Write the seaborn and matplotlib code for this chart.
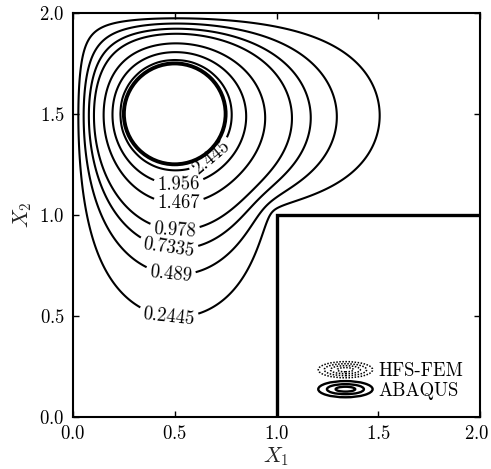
import numpy as np
import matplotlib
matplotlib.use("Agg")
import matplotlib.pyplot as plt
import matplotlib.transforms as mtransforms
import seaborn as sns
from matplotlib.patches import Circle, Ellipse
from matplotlib.lines import Line2D
from matplotlib.legend_handler import HandlerBase

# ---------------- data ----------------
levels = [0.2445, 0.489, 0.7335, 0.978, 1.467, 1.956, 2.445]
level_labels = ["0.2445", "0.489", "0.7335", "0.978", "1.467", "1.956", "2.445"]
hole_center = (0.5, 1.5)
hole_radius = 0.25
hole_value = 2.717          # temperature prescribed on the hole
outer_value = 0.0           # temperature prescribed on the outer boundary
domain_size = 2.0
notch_x = [1.0, 1.0, 2.0]   # re-entrant corner of the L-shaped domain
notch_y = [0.0, 1.0, 1.0]
ticks = [0.0, 0.5, 1.0, 1.5, 2.0]
series_names = ["HFS-FEM", "ABAQUS"]


# ---------------- potential problem on the L-shaped domain ----------------
def setup(n):
    xs = np.linspace(0.0, domain_size, n)
    X, Y = np.meshgrid(xs, xs)
    hole = (X - hole_center[0]) ** 2 + (Y - hole_center[1]) ** 2 <= hole_radius ** 2
    notch = (X >= notch_x[0] - 1e-9) & (Y <= notch_y[1] + 1e-9)
    edge = np.zeros_like(hole)
    edge[0, :] = edge[-1, :] = edge[:, 0] = edge[:, -1] = True
    fixed = hole | notch | edge
    g = np.where(hole, hole_value, outer_value) * fixed
    return X, Y, (~fixed).astype(float), g


def apply_A(u, free):
    r = 4.0 * u
    r[1:-1, 1:-1] -= u[2:, 1:-1] + u[:-2, 1:-1] + u[1:-1, 2:] + u[1:-1, :-2]
    return r * free


def cg(free, g, u0, tol=1e-8, maxit=6000):
    b = np.zeros_like(g)
    b[1:-1, 1:-1] = g[2:, 1:-1] + g[:-2, 1:-1] + g[1:-1, 2:] + g[1:-1, :-2]
    b *= free
    u = u0 * free
    r = b - apply_A(u, free)
    p = r.copy()
    rs = np.sum(r * r)
    bn = np.sqrt(np.sum(b * b))
    for _ in range(maxit):
        Ap = apply_A(p, free)
        a = rs / np.sum(p * Ap)
        u += a * p
        r -= a * Ap
        rsn = np.sum(r * r)
        if np.sqrt(rsn) < tol * bn:
            break
        p = r + (rsn / rs) * p
        rs = rsn
    return u


Xc, Yc, free_c, g_c = setup(201)
uc = cg(free_c, g_c, np.zeros_like(g_c))
X, Y, free_f, g_f = setup(401)
u0 = np.zeros_like(g_f)
u0[::2, ::2] = uc
u0[1::2, ::2] = 0.5 * (uc[:-1, :] + uc[1:, :])
u0[:, 1::2] = 0.5 * (u0[:, :-1:2] + u0[:, 2::2])
uf = cg(free_f, g_f, u0)
T = uf + g_f

# ---------------- plotting ----------------
sns.set_style("ticks")
plt.rcParams.update({
    "font.family": ["cmr10", "DejaVu Serif"],
    "mathtext.fontset": "cm",
    "axes.formatter.use_mathtext": True,
    "axes.unicode_minus": False,
    "axes.edgecolor": "black",
    "axes.linewidth": 1.5,
    "xtick.color": "black",
    "ytick.color": "black",
    "text.color": "black",
})

fig = plt.figure(figsize=(4.91, 4.69), dpi=100)
ax = fig.add_axes([73 / 491, 1 - 416.5 / 469, 407 / 491, 403.5 / 469])

cs = ax.contour(X, Y, T, levels=levels, colors="black", linewidths=1.5)

# approximate label spots; each is snapped onto its own contour level
label_pos = [(0.47, 0.48), (0.48, 0.69), (0.47, 0.83), (0.50, 0.91),
             (0.52, 1.03), (0.52, 1.13), (0.71, 1.25)]
snapped = []
for segs, (px, py) in zip(cs.allsegs, label_pos):
    pts = np.vstack([s for s in segs if len(s)])
    k = np.argmin((pts[:, 0] - px) ** 2 + (pts[:, 1] - py) ** 2)
    snapped.append((pts[k, 0], pts[k, 1]))
ax.clabel(cs, levels=levels, fmt=dict(zip(levels, level_labels)), manual=snapped,
          inline=True, fontsize=13.5, inline_spacing=4)

ax.add_patch(Circle(hole_center, hole_radius, fill=False, lw=2.8, color="black", zorder=3))
ax.plot(notch_x, notch_y, color="black", lw=2.4, solid_joinstyle="miter",
        solid_capstyle="butt", zorder=3)

ax.set_xlim(0, domain_size)
ax.set_ylim(0, domain_size)
ax.set_xticks(ticks)
ax.set_yticks(ticks)
ax.tick_params(direction="in", length=4, width=1.0, top=True, right=True,
               labelsize=13.5, pad=6)
ax.set_xlabel(r"$X_1$", fontsize=15.5, labelpad=2)
ax.set_ylabel(r"$X_2$", fontsize=15.5, labelpad=4)

# keep the last x tick label inside the canvas
last = ax.get_xticklabels()[-1]
last.set_transform(last.get_transform() +
                   mtransforms.ScaledTranslation(-3 / 100, 0, fig.dpi_scale_trans))


class EllipseHandler(HandlerBase):
    def __init__(self, ls, lw, rings):
        super().__init__()
        self.ls = ls
        self.lw = lw
        self.rings = rings

    def create_artists(self, legend, orig_handle, xdescent, ydescent, width,
                       height, fontsize, trans):
        cx = width / 2 - xdescent
        cy = height / 2 - ydescent
        arts = []
        for fw, fh in self.rings:
            e = Ellipse((cx, cy), width * fw, height * fh, fill=False,
                        ls=self.ls, lw=self.lw, edgecolor="black", transform=trans)
            arts.append(e)
        return arts


h_hfs = Line2D([], [], color="black", ls=":")
h_aba = Line2D([], [], color="black", ls="-")
ax.legend([h_hfs, h_aba], series_names,
          handler_map={
              h_hfs: EllipseHandler((0, (1, 1)), 1.1,
                                    ((1.0, 1.0), (0.78, 0.74), (0.55, 0.5), (0.3, 0.26))),
              h_aba: EllipseHandler("-", 1.7,
                                    ((1.0, 1.0), (0.68, 0.62), (0.36, 0.3)))},
          loc="lower right", frameon=False, fontsize=13.5, handlelength=2.9,
          handleheight=0.95, handletextpad=0.3, labelspacing=0.05,
          borderaxespad=0.5)

fig.savefig("out.png", dpi=100)
